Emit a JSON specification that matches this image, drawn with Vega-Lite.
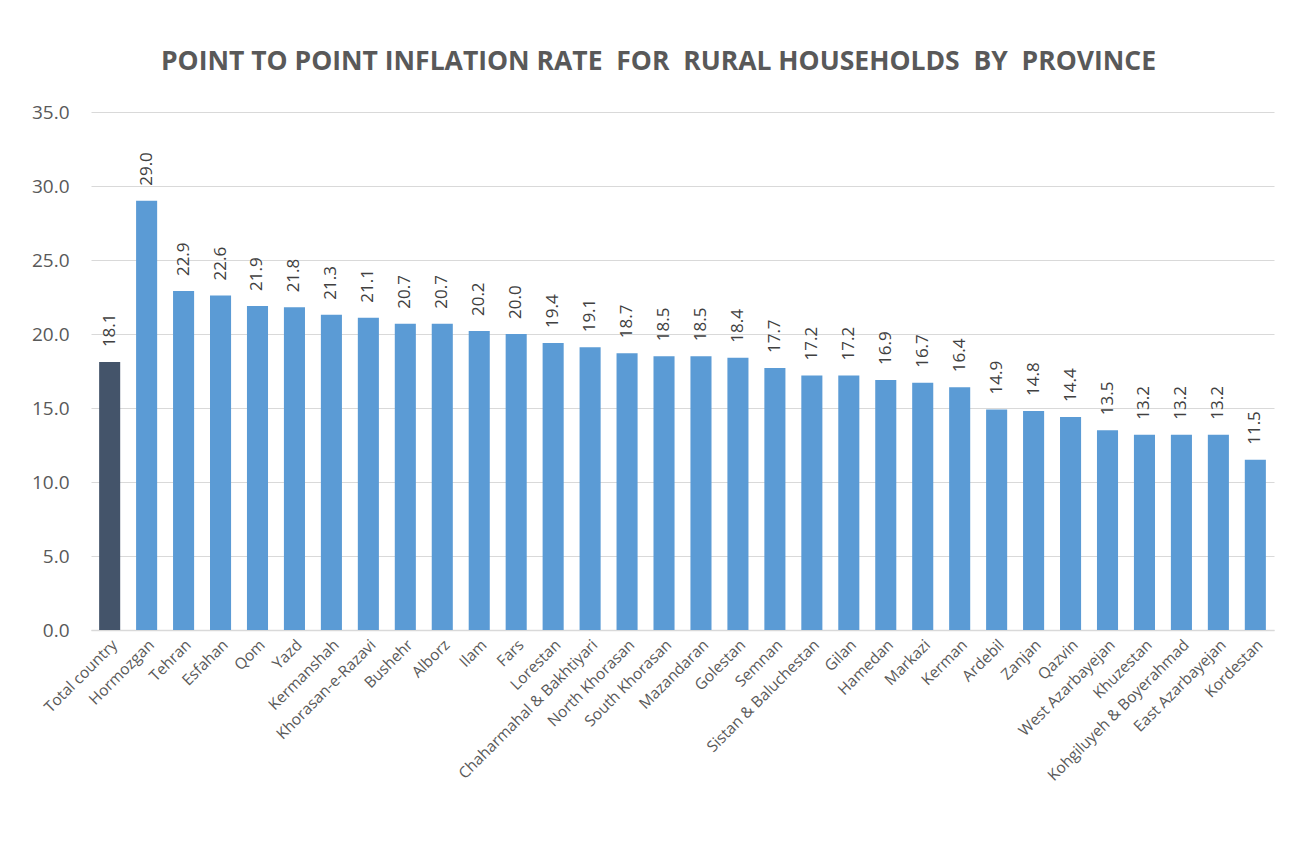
{
  "$schema": "https://vega.github.io/schema/vega-lite/v6.json",
  "autosize": {"type": "none"},
  "width": 1183,
  "height": 518,
  "padding": {"left": 91, "top": 112, "right": 26, "bottom": 233},
  "background": "white",
  "view": {"stroke": null},
  "title": {
    "text": "POINT TO POINT INFLATION RATE\u00a0\u00a0FOR\u00a0\u00a0RURAL HOUSEHOLDS\u00a0\u00a0BY\u00a0\u00a0PROVINCE",
    "font": "Open Sans",
    "fontSize": 26.5,
    "fontWeight": "bold",
    "color": "#595959",
    "anchor": "middle",
    "dx": -24,
    "offset": 28
  },
  "data": {
    "values": [
      {"province": "Total country", "rate": 18.1, "kind": "total"},
      {"province": "Hormozgan", "rate": 29.0, "kind": "prov"},
      {"province": "Tehran", "rate": 22.9, "kind": "prov"},
      {"province": "Esfahan", "rate": 22.6, "kind": "prov"},
      {"province": "Qom", "rate": 21.9, "kind": "prov"},
      {"province": "Yazd", "rate": 21.8, "kind": "prov"},
      {"province": "Kermanshah", "rate": 21.3, "kind": "prov"},
      {"province": "Khorasan-e-Razavi", "rate": 21.1, "kind": "prov"},
      {"province": "Bushehr", "rate": 20.7, "kind": "prov"},
      {"province": "Alborz", "rate": 20.7, "kind": "prov"},
      {"province": "Ilam", "rate": 20.2, "kind": "prov"},
      {"province": "Fars", "rate": 20.0, "kind": "prov"},
      {"province": "Lorestan", "rate": 19.4, "kind": "prov"},
      {"province": "Chaharmahal & Bakhtiyari", "rate": 19.1, "kind": "prov"},
      {"province": "North Khorasan", "rate": 18.7, "kind": "prov"},
      {"province": "South Khorasan", "rate": 18.5, "kind": "prov"},
      {"province": "Mazandaran", "rate": 18.5, "kind": "prov"},
      {"province": "Golestan", "rate": 18.4, "kind": "prov"},
      {"province": "Semnan", "rate": 17.7, "kind": "prov"},
      {"province": "Sistan & Baluchestan", "rate": 17.2, "kind": "prov"},
      {"province": "Gilan", "rate": 17.2, "kind": "prov"},
      {"province": "Hamedan", "rate": 16.9, "kind": "prov"},
      {"province": "Markazi", "rate": 16.7, "kind": "prov"},
      {"province": "Kerman", "rate": 16.4, "kind": "prov"},
      {"province": "Ardebil", "rate": 14.9, "kind": "prov"},
      {"province": "Zanjan", "rate": 14.8, "kind": "prov"},
      {"province": "Qazvin", "rate": 14.4, "kind": "prov"},
      {"province": "West Azarbayejan", "rate": 13.5, "kind": "prov"},
      {"province": "Khuzestan", "rate": 13.2, "kind": "prov"},
      {"province": "Kohgiluyeh & Boyerahmad", "rate": 13.2, "kind": "prov"},
      {"province": "East Azarbayejan", "rate": 13.2, "kind": "prov"},
      {"province": "Kordestan", "rate": 11.5, "kind": "prov"}
    ]
  },
  "encoding": {
    "x": {
      "field": "province",
      "type": "nominal",
      "sort": null,
      "scale": {"paddingInner": 0.43, "paddingOuter": 0.22},
      "axis": {
        "title": null,
        "labelAngle": -45,
        "labelFont": "Open Sans",
        "labelFontSize": 15.5,
        "labelColor": "#595959",
        "labelPadding": 7,
        "labelLimit": 400,
        "ticks": false,
        "domainColor": "#D9D9D9",
        "domainWidth": 1.5
      }
    },
    "y": {
      "field": "rate",
      "type": "quantitative",
      "scale": {"domain": [0, 35], "nice": false},
      "axis": {
        "title": null,
        "values": [0, 5, 10, 15, 20, 25, 30, 35],
        "format": ".1f",
        "labelFont": "Open Sans",
        "labelFontSize": 19,
        "labelColor": "#595959",
        "labelPadding": 22,
        "ticks": false,
        "domain": false,
        "gridColor": "#D9D9D9",
        "gridWidth": 1.2
      }
    }
  },
  "layer": [
    {
      "mark": {"type": "bar"},
      "encoding": {
        "color": {
          "field": "kind",
          "type": "nominal",
          "scale": {"domain": ["total", "prov"], "range": ["#44546A", "#5B9BD5"]},
          "legend": null
        }
      }
    },
    {
      "mark": {
        "type": "text",
        "angle": 270,
        "align": "left",
        "baseline": "middle",
        "dx": 15,
        "font": "Open Sans",
        "fontSize": 17,
        "color": "#404040"
      },
      "encoding": {
        "text": {"field": "rate", "type": "quantitative", "format": ".1f"}
      }
    }
  ]
}
